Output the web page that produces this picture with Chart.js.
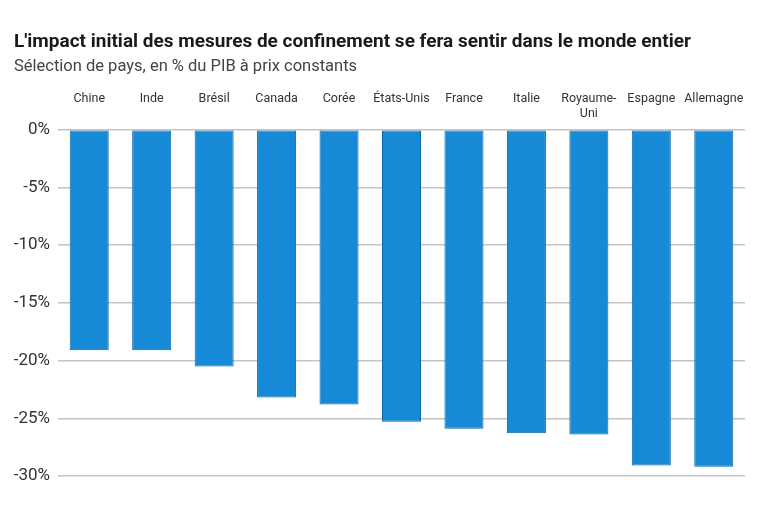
<!DOCTYPE html>
<html>
<head>
<meta charset="utf-8">
<script src="https://cdn.jsdelivr.net/npm/chart.js@4/dist/chart.umd.min.js"></script>
<style>
  html, body { margin: 0; padding: 0; background: #fff; }
  #wrap { width: 765px; height: 510px; }
</style>
</head>
<body>
<div id="wrap"><canvas id="barChart"></canvas></div>
<script>
// labels on two lines so that they all start at the same height
var pays = [['Chine', ''], ['Inde', ''], ['Brésil', ''], ['Canada', ''], ['Corée', ''], ['États-Unis', ''], ['France', ''], ['Italie', ''], ['Royaume-', 'Uni'], ['Espagne', ''], ['Allemagne', '']];
var impactPib = [-19.1, -19.1, -20.5, -23.2, -23.8, -25.3, -25.9, -26.3, -26.4, -29.1, -29.2];
var ticksY = [0, -5, -10, -15, -20, -25, -30];

var police = 'Roboto, "Liberation Sans", sans-serif';
var ctx = document.getElementById('barChart').getContext('2d');

var barChart = new Chart(ctx, {
    type: 'bar',
    data: {
        labels: pays,
        datasets: [{
            label: 'Impact',
            data: impactPib,
            backgroundColor: '#168ad6',
            borderColor: '#0d67a6',
            borderWidth: 1,
            borderSkipped: false,
            categoryPercentage: 0.625,
            barPercentage: 1
        }]
    },
    options: {
        responsive: true,
        maintainAspectRatio: false,
        animation: false,
        layout: { padding: { left: 14, right: 20, bottom: 34, top: 0 } },
        plugins: {
            legend: { display: false },
            tooltip: { enabled: false },
            title: {
                display: true,
                text: "L'impact initial des mesures de confinement se fera sentir dans le monde entier",
                align: 'start',
                color: '#1a1a1a',
                font: { family: police, size: 19, weight: 'bold' },
                padding: { top: 31, bottom: 3 }
            },
            subtitle: {
                display: true,
                text: 'Sélection de pays, en % du PIB à prix constants',
                align: 'start',
                color: '#444',
                font: { family: police, size: 16.5 },
                padding: { bottom: 14 }
            }
        },
        scales: {
            x: {
                position: 'top',
                grid: { display: false },
                border: { display: false },
                ticks: {
                    color: '#333',
                    font: { family: police, size: 12.5, lineHeight: 1.25 },
                    maxRotation: 0,
                    autoSkip: false,
                    padding: 0
                }
            },
            y: {
                min: -30,
                max: 0,
                afterBuildTicks: function (axis) {
                    axis.ticks = ticksY.map(function (v) { return { value: v }; });
                },
                afterFit: function (axis) {
                    axis.width = 44;
                },
                grid: { color: '#c4c4c4', lineWidth: 1.5, drawTicks: false },
                border: { display: false },
                ticks: {
                    color: '#333',
                    font: { family: police, size: 17 },
                    padding: 8,
                    callback: function (v) { return v + '%'; }
                }
            }
        }
    }
});
</script>
</body>
</html>
